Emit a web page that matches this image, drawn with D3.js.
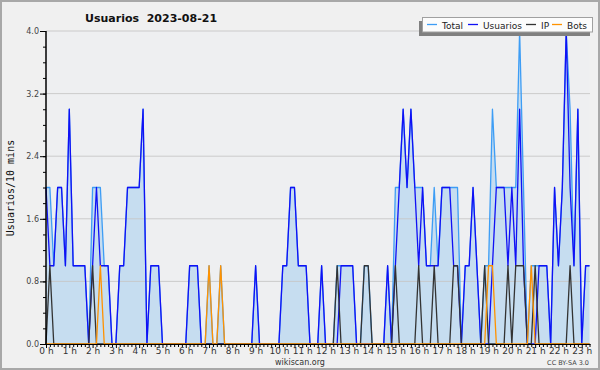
<!DOCTYPE html>
<html>
<head>
<meta charset="utf-8">
<script src="https://cdn.jsdelivr.net/npm/d3@7"></script>
<style>
  body { margin: 0; background: #f0f0f0; }
  svg { display: block; }
</style>
</head>
<body>
<svg width="600" height="370"></svg>
<script>
// valores cada 10 minutos, de 0h00 a 23h20
const usuarios = [
  2,1,1,2,2,1,3,1,1,1,1,0,
  1,2,1,1,1,0,0,1,1,2,2,2,
  2,3,0,1,1,1,0,0,0,0,0,0,
  0,1,1,1,0,0,0,0,0,0,0,0,
  0,0,0,0,0,0,1,0,0,0,0,0,
  0,1,1,2,2,1,1,1,0,0,0,1,
  0,0,0,0,1,1,1,1,0,0,0,0,
  0,0,0,0,1,0,1,2,3,2,3,2,
  1,2,1,1,1,1,2,2,2,1,1,0,
  1,1,2,1,0,0,0,1,2,2,2,1,
  2,1,3,1,0,0,0,1,1,1,0,2,
  1,2,4,2,1,3,0,1,1
];
const ip = [
  0,1,0,0,0,0,0,0,0,0,0,0,
  1,0,0,0,0,0,0,0,0,0,0,0,
  0,0,0,0,0,0,0,0,0,0,0,0,
  0,0,0,0,0,0,0,0,0,0,0,0,
  0,0,0,0,0,0,0,0,0,0,0,0,
  0,0,0,0,0,0,0,0,0,0,0,0,
  0,0,0,1,0,0,0,0,0,0,1,1,
  0,0,0,0,0,0,1,0,0,0,0,0,
  1,0,0,0,1,0,0,0,0,1,1,0,
  0,0,0,0,0,1,0,0,0,0,0,1,
  0,1,1,1,0,0,1,0,0,0,0,0,
  0,0,0,1,0,0,0,0,0
];
const bots = [
  0,0,0,0,0,0,0,0,0,0,0,0,
  0,0,1,0,0,0,0,0,0,0,0,0,
  0,0,0,0,0,0,0,0,0,0,0,0,
  0,0,0,0,0,0,1,0,0,1,0,0,
  0,0,0,0,0,0,0,0,0,0,0,0,
  0,0,0,0,0,0,0,0,0,0,0,0,
  0,0,0,0,0,0,0,0,0,0,0,0,
  0,0,0,0,0,0,0,0,0,0,0,0,
  0,0,0,0,0,0,0,0,0,0,0,0,
  0,0,0,0,0,0,1,1,0,0,0,0,
  0,0,0,0,0,1,0,0,0,0,0,0,
  0,0,0,0,0,0,0,0,0
];
const total = [
  2,2,1,2,2,1,3,1,1,1,1,0,
  2,2,2,1,1,0,0,1,1,2,2,2,
  2,3,0,1,1,1,0,0,0,0,0,0,
  0,1,1,1,0,0,1,0,0,1,0,0,
  0,0,0,0,0,0,1,0,0,0,0,0,
  0,1,1,2,2,1,1,1,0,0,0,1,
  0,0,0,1,1,1,1,1,0,0,1,1,
  0,0,0,0,1,0,2,2,3,2,3,2,
  2,2,1,1,2,1,2,2,2,2,2,0,
  1,1,2,1,0,1,1,3,2,2,2,2,
  2,2,4,2,0,1,1,1,1,1,0,2,
  1,2,4,3,1,3,0,1,1
];
const yTicks = [0, 0.8, 1.6, 2.4, 3.2, 4.0];

const series = [
  { name: "Total", values: total, color: "#3d9df5" },
  { name: "Usuarios", values: usuarios, color: "#1010f5" },
  { name: "IP", values: ip, color: "#333333" },
  { name: "Bots", values: bots, color: "#ff9200" }
];

const svg = d3.select("svg");
const plot = { left: 46, right: 589.5, top: 31, bottom: 344 };

const x = d3.scaleLinear().domain([0, total.length - 1]).range([plot.left, plot.right]);
const y = d3.scaleLinear().domain([0, 4]).range([plot.bottom, plot.top]);

// fondo y marco
svg.append("rect").attr("x", 1).attr("y", 1).attr("width", 598).attr("height", 368)
  .attr("fill", "#f0f0f0").attr("stroke", "#a8a8a8").attr("stroke-width", 2);
svg.append("rect").attr("x", plot.left).attr("y", plot.top)
  .attr("width", plot.right - plot.left).attr("height", plot.bottom - plot.top)
  .attr("fill", "#eeeff1");

// area del total
svg.append("path")
  .datum(total)
  .attr("fill", "#c6ddf0")
  .attr("d", d3.area().x((d, i) => x(i)).y0(y(0)).y1(d => y(d)));

// lineas de la rejilla
svg.append("g").selectAll("line")
  .data(yTicks.filter(d => d > 0))
  .enter().append("line")
  .attr("x1", plot.left).attr("x2", plot.right + 0.5)
  .attr("y1", d => y(d)).attr("y2", d => y(d))
  .attr("stroke", "#c8c8c8").attr("stroke-width", 1).attr("opacity", 0.9);

// series
const line = d3.line().x((d, i) => x(i)).y(d => y(d));
series.forEach(s => {
  svg.append("path")
    .datum(s.values)
    .attr("fill", "none")
    .attr("stroke", s.color)
    .attr("stroke-width", 1.3)
    .attr("stroke-linejoin", "round")
    .attr("d", line);
});

// eje x
const xAxis = d3.axisBottom(x)
  .tickValues(d3.range(0, total.length))
  .tickSize(3)
  .tickPadding(1)
  .tickFormat(i => i % 6 === 0 ? (i / 6) + " h" : "");
const gx = svg.append("g").attr("transform", "translate(0," + plot.bottom + ")").call(xAxis);
gx.select(".domain").attr("stroke", "#000").attr("d", "M" + plot.left + ",0.5H" + (plot.right + 1));
gx.selectAll(".tick line").attr("stroke", "#000")
  .attr("y2", d => d % 6 === 0 ? 4 : 3);
gx.selectAll("text").attr("font-family", "DejaVu Sans").attr("font-size", 9).attr("fill", "#333");

// eje y
const yMinor = d3.axisLeft(y).tickValues(d3.range(0, 21).map(k => k * 0.2)).tickSize(3).tickFormat("");
const gyMinor = svg.append("g").attr("transform", "translate(" + plot.left + ",0)").call(yMinor);
gyMinor.select(".domain").remove();
gyMinor.selectAll(".tick line").attr("stroke", "#000");

const yAxis = d3.axisLeft(y).tickValues(yTicks).tickSize(6).tickPadding(1).tickFormat(d3.format(".1f"));
const gy = svg.append("g").attr("transform", "translate(" + plot.left + ",0)").call(yAxis);
gy.select(".domain").attr("stroke", "#000").attr("stroke-width", 1.5)
  .attr("d", "M0," + plot.top + "V" + plot.bottom);
gy.selectAll(".tick line").attr("stroke", "#000");
gy.selectAll("text").attr("font-family", "DejaVu Sans").attr("font-size", 8).attr("fill", "#444");

// titulo
svg.append("text")
  .attr("x", 85).attr("y", 21.5)
  .attr("font-family", "DejaVu Sans").attr("font-weight", "bold").attr("font-size", 11)
  .attr("fill", "#111")
  .attr("xml:space", "preserve")
  .text("Usuarios  2023-08-21");

// etiqueta eje y
svg.append("text")
  .attr("transform", "translate(13.5,188) rotate(-90)")
  .attr("text-anchor", "middle")
  .attr("font-family", "DejaVu Sans Mono").attr("font-size", 10)
  .attr("fill", "#111")
  .text("Usuarios/10 mins");

// leyenda
const legend = svg.append("g");
legend.append("rect").attr("x", 419).attr("y", 21).attr("width", 171).attr("height", 15).attr("fill", "#808080");
legend.append("rect").attr("x", 422.5).attr("y", 17.5).attr("width", 170).attr("height", 14.5)
  .attr("fill", "#fcfcfc").attr("stroke", "#a0a0a0");
const legendX = [427, 468, 526, 552];
series.forEach((s, k) => {
  legend.append("line")
    .attr("x1", legendX[k]).attr("x2", legendX[k] + 10)
    .attr("y1", 24.5).attr("y2", 24.5)
    .attr("stroke", s.color).attr("stroke-width", 1.3);
  legend.append("text")
    .attr("x", legendX[k] + 15).attr("y", 28.5)
    .attr("font-family", "DejaVu Sans").attr("font-size", 9).attr("fill", "#222")
    .text(s.name);
});

// pie
svg.append("text").attr("x", 300).attr("y", 364.5).attr("text-anchor", "middle")
  .attr("font-family", "DejaVu Sans").attr("font-size", 8).attr("fill", "#333")
  .text("wikiscan.org");
svg.append("text").attr("x", 589).attr("y", 364.5).attr("text-anchor", "end")
  .attr("font-family", "DejaVu Sans").attr("font-size", 6.5).attr("fill", "#444")
  .text("CC BY-SA 3.0");
</script>
</body>
</html>
